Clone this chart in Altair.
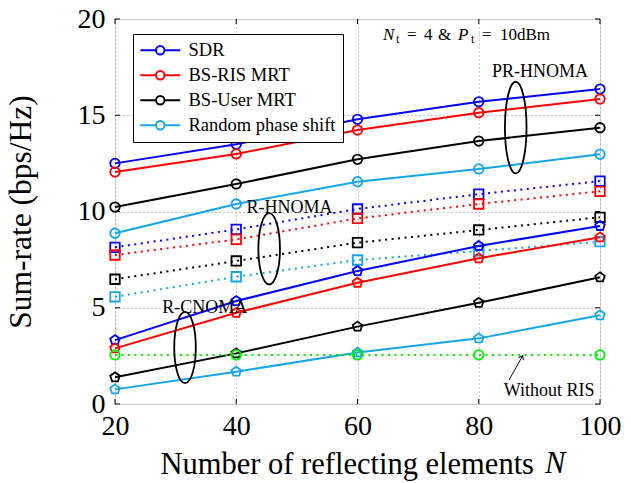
import altair as alt
import pandas as pd

# ---------------- data ----------------
N_values = [20, 40, 60, 80, 100]
methods = ["SDR", "BS-RIS MRT", "BS-User MRT", "Random phase shift"]
colors = ["#0000FF", "#FF0000", "#000000", "#14A5E6"]

# PR-HNOMA (circles, solid)
pr_sdr = [12.50, 13.49, 14.79, 15.70, 16.36]
pr_bsris = [12.05, 12.99, 14.23, 15.13, 15.84]
pr_bsuser = [10.23, 11.43, 12.71, 13.66, 14.35]
pr_random = [8.87, 10.39, 11.55, 12.21, 12.97]

# R-HNOMA (squares, dotted)
rh_sdr = [8.14, 9.07, 10.13, 10.90, 11.58]
rh_bsris = [7.74, 8.55, 9.64, 10.39, 11.05]
rh_bsuser = [6.48, 7.43, 8.38, 9.04, 9.70]
rh_random = [5.57, 6.61, 7.48, 7.95, 8.43]

# R-CNOMA (pentagons, solid)
rc_sdr = [3.32, 5.35, 6.91, 8.21, 9.25]
rc_bsris = [2.89, 4.74, 6.30, 7.57, 8.66]
rc_bsuser = [1.39, 2.63, 4.02, 5.26, 6.58]
rc_random = [0.76, 1.68, 2.67, 3.41, 4.61]

# Without RIS (green circles, dotted)
without_ris = [2.55, 2.55, 2.55, 2.55, 2.55]

x_ticks = [20, 40, 60, 80, 100]
y_ticks = [0, 5, 10, 15, 20]

label_text = ["PR-HNOMA", "R-HNOMA", "R-CNOMA", "Without RIS"]
label_x = [90.1, 48.8, 34.8, 91.6]
label_y = [16.97, 9.94, 4.74, 0.42]

# "N_t = 4 & P_t = 10dBm" written piece by piece (math italic + subscripts)
info_parts = ["N", "t", "=", "4", "&", "P", "t", "=", "10dBm"]
info_x = [64.2]
info_y = [18.89]

ellipse_big_x = [86.1]
ellipse_big_y = [14.36]
ellipse_small_x = [45.43, 31.55]
ellipse_small_y = [8.06, 2.935]

arrow_tail = [85.0, 1.25]
arrow_tip = [87.25, 2.51]

x_title_main = "Number of reflecting elements"
x_title_symbol = "N"
y_title = "Sum-rate (bps/Hz)"

# ---------------- frames ----------------
def long_df(series):
    rows = []
    for m, vals in zip(methods, series):
        for n, v in zip(N_values, vals):
            rows.append({"N": n, "rate": v, "method": m})
    return pd.DataFrame(rows)

pr_df = long_df([pr_sdr, pr_bsris, pr_bsuser, pr_random])
rh_df = long_df([rh_sdr, rh_bsris, rh_bsuser, rh_random])
rc_df = long_df([rc_sdr, rc_bsris, rc_bsuser, rc_random])
wo_df = pd.DataFrame({"N": N_values, "rate": without_ris})
lab_df = pd.DataFrame({"N": label_x, "rate": label_y, "txt": label_text})
ell_big_df = pd.DataFrame({"N": ellipse_big_x, "rate": ellipse_big_y})
ell_small_df = pd.DataFrame({"N": ellipse_small_x, "rate": ellipse_small_y})
arrow_df = pd.DataFrame({"N": [arrow_tail[0]], "rate": [arrow_tail[1]],
                         "N2": [arrow_tip[0]], "rate2": [arrow_tip[1]]})
tip_df = pd.DataFrame({"N": [arrow_tip[0]], "rate": [arrow_tip[1]]})
xt_df = pd.DataFrame({"N": x_ticks})
yt_df = pd.DataFrame({"rate": y_ticks})

FONT = "Liberation Serif"
W, H = 485, 385
XT_Y = 69.3  # x-title baseline below the plot

x_axis = alt.Axis(values=x_ticks, ticks=False, domain=False, grid=True,
                  gridDash=[1, 3], gridColor="#9a9a9a", gridWidth=1,
                  labelFontSize=28, titleFontSize=30.5, labelPadding=8,
                  labelFlush=False, labelColor="black",
                  titleColor="black", titleFontWeight="normal",
                  titleX=45, titleY=XT_Y, titleAlign="left",
                  titleBaseline="alphabetic", titleAnchor="start",
                  labelFont=FONT, titleFont=FONT)
y_axis = alt.Axis(values=y_ticks, ticks=False, domain=False, grid=True,
                  gridDash=[1, 3], gridColor="#9a9a9a", gridWidth=1,
                  labelFontSize=28, titleFontSize=31.5, labelPadding=10,
                  titlePadding=40, labelFlush=False, labelColor="black",
                  titleColor="black", titleFontWeight="normal",
                  labelFont=FONT, titleFont=FONT)

x_enc = alt.X("N:Q", scale=alt.Scale(domain=[20, 100], nice=False, zero=False),
              axis=x_axis, title=x_title_main)
y_enc = alt.Y("rate:Q", scale=alt.Scale(domain=[0, 20], nice=False),
              axis=y_axis, title=y_title)

LEG_PATH = "M-4.7,0H-1M1,0H4.7M1,0A1,1,0,1,1,-1,0A1,1,0,1,1,1,0"
legend = alt.Legend(title=None, orient="none", legendX=18, legendY=15,
                    direction="vertical", symbolType=LEG_PATH, symbolSize=72,
                    symbolStrokeWidth=2, symbolOffset=11, labelOffset=19,
                    symbolFillColor="transparent",
                    labelFontSize=18.5, labelFont=FONT, labelColor="black",
                    padding=7, rowPadding=6, strokeColor="black",
                    fillColor="white", zindex=1)
color_enc = alt.Color("method:N", scale=alt.Scale(domain=methods, range=colors),
                      legend=legend)

PENTAGON = "M0,-1L0.951,-0.309L0.588,0.809L-0.588,0.809L-0.951,-0.309Z"
DOT = [2, 4.5]

def lines(df, dash=None):
    kw = dict(strokeWidth=2)
    if dash:
        kw["strokeDash"] = dash
    return alt.Chart(df).mark_line(**kw).encode(x=x_enc, y=y_enc, color=color_enc,
                                                 detail="method:N")

def points(df, shape, size):
    return alt.Chart(df).mark_point(shape=shape, size=size, filled=False,
                                    strokeWidth=1.8, opacity=1).encode(
        x=x_enc, y=y_enc, color=color_enc)

layers = [
    lines(pr_df), points(pr_df, "circle", 90),
    lines(rh_df, DOT), points(rh_df, "square", 90),
    lines(rc_df), points(rc_df, PENTAGON, 100),
    alt.Chart(wo_df).mark_line(strokeWidth=2, strokeDash=DOT, color="#00EE00").encode(x=x_enc, y=y_enc),
    alt.Chart(wo_df).mark_point(shape="circle", size=90, filled=False, strokeWidth=1.8,
                                color="#00EE00", opacity=1).encode(x=x_enc, y=y_enc),
    alt.Chart(ell_big_df).mark_point(
        shape="M0,-1A0.236,1,0,1,1,0,1A0.236,1,0,1,1,0,-1", size=8390,
        filled=False, color="black", strokeWidth=1.8, opacity=1).encode(x=x_enc, y=y_enc),
    alt.Chart(ell_small_df).mark_point(
        shape="M0,-1A0.303,1,0,1,1,0,1A0.303,1,0,1,1,0,-1", size=5084,
        filled=False, color="black", strokeWidth=1.8, opacity=1).encode(x=x_enc, y=y_enc),
    alt.Chart(arrow_df).mark_rule(color="black", strokeWidth=1).encode(
        x=x_enc, y=y_enc, x2="N2:Q", y2="rate2:Q"),
    alt.Chart(tip_df).mark_point(shape="M-1,1.3L0,0L1,1.3", size=30, filled=False,
                                 color="black", strokeWidth=1, angle=29.4,
                                 opacity=1).encode(x=x_enc, y=y_enc),
    alt.Chart(lab_df).mark_text(fontSize=18, font=FONT, baseline="alphabetic",
                                color="black").encode(x=x_enc, y=y_enc, text="txt:N"),
    # italic N after the x-axis title
    alt.Chart(pd.DataFrame({"txt": [x_title_symbol]})).mark_text(
        fontSize=30.5, font=FONT, fontStyle="italic", baseline="alphabetic",
        align="left", color="black").encode(
        x=alt.value(430), y=alt.value(H + XT_Y), text="txt:N"),
    # inward ticks on all four sides
    alt.Chart(yt_df).mark_rule(color="black", strokeWidth=1).encode(
        y=y_enc, x=alt.value(0), x2=alt.value(5)),
    alt.Chart(yt_df).mark_rule(color="black", strokeWidth=1).encode(
        y=y_enc, x=alt.value(W - 5), x2=alt.value(W)),
    alt.Chart(xt_df).mark_rule(color="black", strokeWidth=1).encode(
        x=x_enc, y=alt.value(H - 5), y2=alt.value(H)),
    alt.Chart(xt_df).mark_rule(color="black", strokeWidth=1).encode(
        x=x_enc, y=alt.value(0), y2=alt.value(5)),
]

# info text pieces: offset (px), baseline shift (px), size, style
info_dx = [0, 13, 24, 41, 55, 75, 88, 99, 117]
info_dy = [0, 3, 0, 0, 0, 0, 3, 0, 0]
info_size = [17, 12, 17, 17, 17, 17, 12, 17, 17]
info_italic = [True, False, False, False, False, True, False, False, False]
for part, dx, dy, fs, it in zip(info_parts, info_dx, info_dy, info_size, info_italic):
    kw = dict(fontSize=fs, font=FONT, baseline="alphabetic", align="left",
              color="black", dx=dx, dy=dy)
    if it:
        kw["fontStyle"] = "italic"
    layers.append(
        alt.Chart(pd.DataFrame({"N": info_x, "rate": info_y, "txt": [part]}))
        .mark_text(**kw).encode(x=x_enc, y=y_enc, text="txt:N"))

chart = alt.layer(*layers).properties(
    width=W, height=H,
    autosize=alt.AutoSizeParams(type="none"),
    padding={"left": 115, "top": 19, "right": 31, "bottom": 79},
    background="white",
).configure_view(stroke="black", strokeWidth=1.2).configure(font=FONT)

chart.save("out.html", embed_options={"renderer": "svg", "actions": False})
